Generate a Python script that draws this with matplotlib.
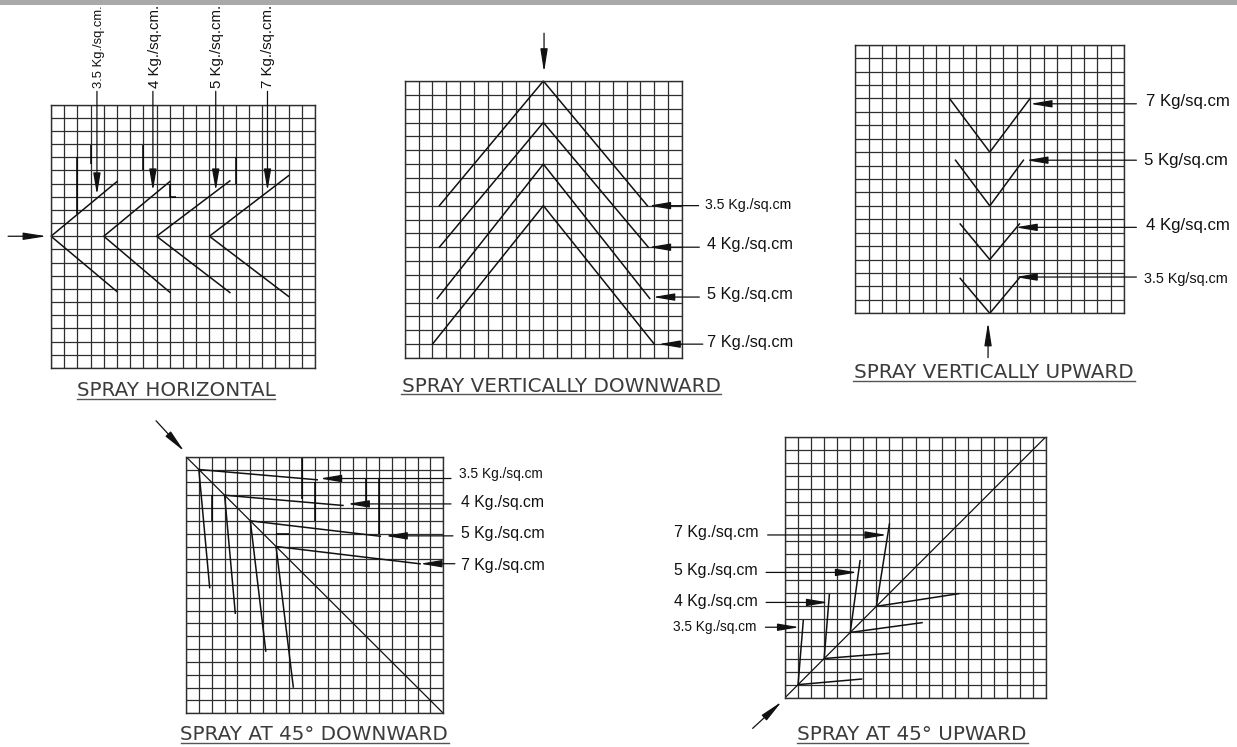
import matplotlib
matplotlib.use('Agg')
from matplotlib import pyplot as plt

W, H = 1237, 747
CELLS = 20
GRID_COLOR = '#2e2e2e'
INK = '#111111'
TITLE_COLOR = '#3c3c3c'

# everything below is in grid cells, x from the left edge, y from the top edge

# spray horizontal
H_NODES = [(0, 10), (4, 10), (8, 10), (12, 10)]
H_ENDS_A = [(5, 5.85), (9, 5.85), (13.55, 5.8), (18, 5.4)]
H_ENDS_B = [(5, 14.2), (9, 14.25), (13.55, 14.27), (18, 14.57)]
H_LEAD_FROM = [(3.48, -1), (7.72, -1), (12.48, -1), (16.4, -1)]
H_LEAD_TO = [(3.48, 6.85), (7.72, 6.55), (12.48, 6.55), (16.4, 6.55)]
H_LABELS = ['3.5 Kg./sq.cm.', '4 Kg./sq.cm.', '5 Kg./sq.cm.', '7 Kg./sq.cm.']
H_LABEL_POS = [(3.65, -1.22), (7.85, -1.22), (12.6, -1.22), (16.45, -1.22)]
H_LABEL_SIZE = [9.4, 10.8, 10.8, 10.8]
H_INPUT = [(-3.25, 10), (-0.33, 10)]
H_DARK = [(2, 4, 2, 8.3), (3, 3.1, 3, 4.5), (7, 3.1, 7, 5), (14, 4, 14, 6), (9, 6, 9, 7), (9, 7, 9.5, 7)]

# spray vertically downward
D_NODES = [(10, 0), (10, 3), (10, 6), (10, 9)]
D_ENDS_A = [(2.5, 9), (2.5, 12), (2.35, 15.7), (2, 19)]
D_ENDS_B = [(17.5, 9), (17.57, 12), (17.67, 15.7), (18, 19)]
D_LEAD_FROM = [(21.2, 9), (21.25, 12), (21.25, 15.6), (21.5, 19)]
D_LEAD_TO = [(17.6, 9), (17.6, 12), (17.9, 15.6), (18.3, 19)]
D_LABELS = ['3.5 Kg./sq.cm', '4 Kg./sq.cm', '5 Kg./sq.cm', '7 Kg./sq.cm']
D_LABEL_POS = [(21.65, 8.95), (21.78, 11.78), (21.78, 15.45), (21.78, 18.85)]
D_LABEL_SIZE = [10.2, 11.7, 11.7, 11.8]
D_INPUT = [(10.05, -3.45), (10.05, -0.63)]

# spray vertically upward
U_NODES = [(10, 8), (10, 12), (10, 16), (10, 20)]
U_ENDS_A = [(7, 4), (7.45, 8.6), (7.8, 13.35), (7.8, 17.4)]
U_ENDS_B = [(13, 4), (12.5, 8.6), (12.2, 13.35), (12.17, 17.4)]
U_LEAD_FROM = [(20.9, 4.4), (20.9, 8.6), (20.9, 13.6), (20.9, 17.3)]
U_LEAD_TO = [(13, 4.4), (12.7, 8.6), (11.9, 13.6), (11.9, 17.3)]
U_LABELS = ['7 Kg/sq.cm', '5 Kg/sq.cm', '4 Kg/sq.cm', '3.5 Kg/sq.cm']
U_LABEL_POS = [(21.6, 4.2), (21.5, 8.6), (21.65, 13.48), (21.45, 17.42)]
U_LABEL_SIZE = [12.1, 12.1, 12.1, 10.4]
U_INPUT = [(9.87, 23.3), (9.87, 20.67)]

# spray at 45 downward
DD_NODES = [(1, 1), (3, 3), (5, 5), (7, 7)]
DD_ENDS_A = [(10.2, 1.8), (12.2, 3.8), (15.1, 6.2), (18.2, 8.35)]
DD_ENDS_B = [(1.84, 10.2), (3.83, 12.2), (6.2, 15.15), (8.34, 17.95)]
DD_LEAD_FROM = [(20.6, 1.7), (20.6, 3.68), (20.75, 6.17), (20.9, 8.34)]
DD_LEAD_TO = [(10.4, 1.7), (12.55, 3.68), (15.5, 6.17), (18.2, 8.34)]
DD_LABELS = ['3.5 Kg./sq.cm', '4 Kg./sq.cm', '5 Kg./sq.cm', '7 Kg./sq.cm']
DD_LABEL_POS = [(21.25, 1.38), (21.35, 3.55), (21.35, 5.95), (21.4, 8.45)]
DD_LABEL_SIZE = [9.9, 11.3, 11.4, 11.4]
DD_INPUT = [(-2.33, -2.8), (-0.13, -0.41)]
DD_DARK = [(2, 3, 2, 5), (9, 0, 9, 3.3), (10, 2, 10, 5), (14, 1.7, 14, 3.5), (15, 1.7, 15, 6), (7, 6, 8, 6)]

# spray at 45 upward
UU_NODES = [(1, 19), (3, 17), (5, 15), (7, 13)]
UU_ENDS_A = [(1.4, 14.1), (3.4, 12.1), (5.75, 9.5), (8, 6.7)]
UU_ENDS_B = [(5.87, 18.57), (7.9, 16.6), (10.5, 14.25), (13.3, 12.03)]
UU_LEAD_FROM = [(-1.33, 7.53), (-1.45, 10.4), (-1.45, 12.7), (-1.5, 14.6)]
UU_LEAD_TO = [(7.8, 7.53), (5.54, 10.4), (3.32, 12.7), (1.1, 14.6)]
UU_LABELS = ['7 Kg./sq.cm', '5 Kg./sq.cm', '4 Kg./sq.cm', '3.5 Kg./sq.cm']
UU_LABEL_POS = [(-8.5, 7.35), (-8.5, 10.25), (-8.5, 12.65), (-8.55, 14.6)]
UU_LABEL_SIZE = [11.5, 11.4, 11.4, 9.8]
UU_INPUT = [(-2.48, 22.35), (-0.25, 20.3)]


def make_panel(fig, box):
    left, top, right, bottom = box
    ax = fig.add_axes([left / W, 1 - bottom / H, (right - left) / W, (bottom - top) / H])
    ax.set_xlim(0, CELLS)
    ax.set_ylim(CELLS, 0)
    ax.set_xticks(range(CELLS + 1))
    ax.set_yticks(range(CELLS + 1))
    ax.tick_params(length=0, labelbottom=False, labelleft=False)
    ax.grid(True, color=GRID_COLOR, linewidth=0.9)
    ax.set_axisbelow(True)
    for spine in ax.spines.values():
        spine.set_color(GRID_COLOR)
        spine.set_linewidth(1.0)
    return ax


def arrow(ax, start, tip, head=13, lw=0.9):
    style = '-|>,head_length=%s,head_width=2.2' % head
    ax.annotate('', xy=tip, xytext=start, annotation_clip=False,
                arrowprops=dict(arrowstyle=style, mutation_scale=1, color=INK,
                                lw=lw, shrinkA=0, shrinkB=0))


def draw_panel(fig, box, nodes, ends_a, ends_b, lead_from, lead_to, labels, label_pos,
               label_size, spray_in, title, title_xy, title_span, title_size, dark=(),
               diagonal=None, rotate=False):
    ax = make_panel(fig, box)
    for x0, y0, x1, y1 in dark:
        ax.plot([x0, x1], [y0, y1], color='#000000', lw=1.1, solid_capstyle='butt')
    if diagonal:
        ax.plot([diagonal[0][0], diagonal[1][0]], [diagonal[0][1], diagonal[1][1]],
                color=INK, lw=0.9)
    for node, a, b in zip(nodes, ends_a, ends_b):
        ax.plot([a[0], node[0], b[0]], [a[1], node[1], b[1]], color=INK, lw=1.1,
                clip_on=False, solid_joinstyle='miter')
    for start, tip in zip(lead_from, lead_to):
        arrow(ax, start, tip)
    for text, pos, size in zip(labels, label_pos, label_size):
        if rotate:
            ax.text(pos[0], pos[1], text, rotation=90, ha='center', va='bottom',
                    fontsize=size, family='Liberation Sans', color=INK)
        else:
            ax.text(pos[0], pos[1], text, ha='left', va='center', fontsize=size,
                    family='Liberation Sans', color=INK)
    arrow(ax, spray_in[0], spray_in[1], head=14)

    # title and its rule, placed in pixels on the background axes
    bg.text(title_xy[0], title_xy[1], title, ha='center', va='baseline', fontsize=title_size,
            family='DejaVu Sans', color=TITLE_COLOR)
    bg.plot(title_span, [title_xy[1] + 2, title_xy[1] + 2], color='#555555', lw=1.0)


fig = plt.figure(figsize=(W / 100, H / 100), dpi=100)
bg = fig.add_axes([0, 0, 1, 1])
bg.set_xlim(0, W)
bg.set_ylim(H, 0)
bg.axis('off')
bg.axhspan(0, 4.5, color='#a9a9a9', lw=0)

draw_panel(fig, (51, 104.5, 315, 368), H_NODES, H_ENDS_A, H_ENDS_B, H_LEAD_FROM, H_LEAD_TO,
           H_LABELS, H_LABEL_POS, H_LABEL_SIZE, H_INPUT,
           'SPRAY HORIZONTAL', (176, 396.5), (77, 275), 14.3, dark=H_DARK, rotate=True)
draw_panel(fig, (404.7, 81, 682, 358), D_NODES, D_ENDS_A, D_ENDS_B, D_LEAD_FROM, D_LEAD_TO,
           D_LABELS, D_LABEL_POS, D_LABEL_SIZE, D_INPUT,
           'SPRAY VERTICALLY DOWNWARD', (561, 392.3), (401, 721), 14.4)
draw_panel(fig, (855.3, 44.7, 1124.3, 313.3), U_NODES, U_ENDS_A, U_ENDS_B, U_LEAD_FROM, U_LEAD_TO,
           U_LABELS, U_LABEL_POS, U_LABEL_SIZE, U_INPUT,
           'SPRAY VERTICALLY UPWARD', (994, 378.5), (853, 1135), 14.4)
draw_panel(fig, (186, 456.7, 443.3, 713.3), DD_NODES, DD_ENDS_A, DD_ENDS_B, DD_LEAD_FROM, DD_LEAD_TO,
           DD_LABELS, DD_LABEL_POS, DD_LABEL_SIZE, DD_INPUT,
           'SPRAY AT 45° DOWNWARD', (314, 740.5), (181, 449), 14.3, dark=DD_DARK,
           diagonal=[(0, 0), (20, 20)])
draw_panel(fig, (785, 436.7, 1046, 697.7), UU_NODES, UU_ENDS_A, UU_ENDS_B, UU_LEAD_FROM, UU_LEAD_TO,
           UU_LABELS, UU_LABEL_POS, UU_LABEL_SIZE, UU_INPUT,
           'SPRAY AT 45° UPWARD', (912, 740.5), (797, 1028), 14.4,
           diagonal=[(0, 20), (20, 0)])

plt.savefig('out.png', dpi=100)
